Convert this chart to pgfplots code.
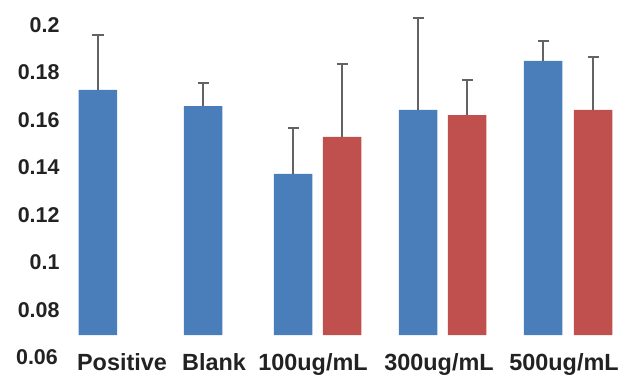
\documentclass[border=0pt]{standalone}
\usepackage{pgfplots}
\pgfplotsset{compat=1.18}
\usepackage{fontspec}
\setmainfont{Liberation Sans}
\definecolor{barblue}{HTML}{4A7EBB}
\definecolor{barred}{HTML}{C0504D}
\definecolor{errgray}{HTML}{636363}
\definecolor{txt}{HTML}{222222}
\begin{document}
\begin{tikzpicture}[x=1bp,y=1bp]
\begin{axis}[
  scale only axis,
  width=553bp, height=322bp,
  xmin=65, xmax=618,
  ymin=0.0693, ymax=0.205,
  axis line style={draw=none},
  tick style={draw=none},
  xtick={122,214,313,439,564},
  xticklabels={Positive,Blank,100ug/mL,300ug/mL,500ug/mL},
  ytick={0.08,0.1,0.12,0.14,0.16,0.18,0.2},
  yticklabels={0.08,0.1,0.12,0.14,0.16,0.18,0.2},
  scaled y ticks=false,
  yticklabel style={font=\fontsize{21.5}{26}\selectfont\bfseries, text=txt, xshift=-2bp},
  xticklabel style={font=\fontsize{23.5}{28}\selectfont\bfseries, text=txt, yshift=-15bp},
  clip=false,
  error bars/error bar style={errgray, line width=1.6bp},
  error bars/error mark options={errgray, line width=1.6bp, mark size=5.5bp, rotate=90},
]
\addplot[ybar, bar width=38.5, bar shift=0pt, fill=barblue, draw=none,
  error bars/.cd, y dir=plus, y explicit]
  coordinates {
    (98,0.1726) +- (0,0.0232)
    (203,0.1658) +- (0,0.0097)
    (293,0.1372) +- (0,0.0194)
    (418,0.1642) +- (0,0.0388)
    (543,0.1848) +- (0,0.0085)
  };
\addplot[ybar, bar width=38.5, bar shift=0pt, fill=barred, draw=none,
  error bars/.cd, y dir=plus, y explicit]
  coordinates {
    (342,0.1528) +- (0,0.0308)
    (467,0.1620) +- (0,0.0148)
    (593,0.1642) +- (0,0.0223)
  };
\node[anchor=east, inner sep=0pt, font=\fontsize{21.5}{26}\selectfont\bfseries, text=txt] at (axis cs:58,0.0600) {0.06};
\coordinate (bl) at (axis cs:0,0.0524);
\coordinate (tr) at (axis cs:618,0.2105);
\end{axis}
\pgfresetboundingbox
\path (bl) rectangle (tr);
\end{tikzpicture}
\end{document}
